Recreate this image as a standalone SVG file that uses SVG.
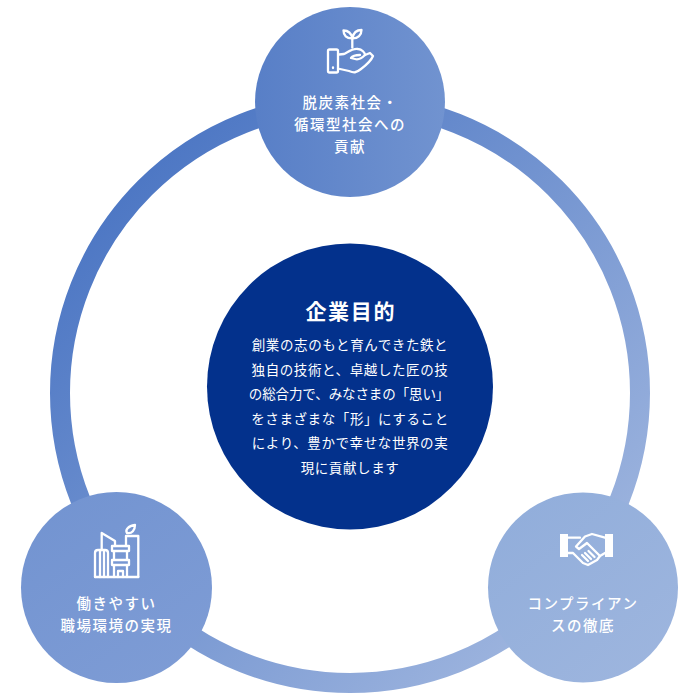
<svg xmlns="http://www.w3.org/2000/svg" width="700" height="700" viewBox="0 0 700 700">
<style>
text{font-family:"Noto Sans CJK JP","Noto Sans",sans-serif;fill:#fff;text-anchor:middle}
.l{font-size:14.500px;font-weight:500;letter-spacing:1.500px}
.b{font-size:13.500px;letter-spacing:.600px}
.t{font-size:21px;font-weight:700;letter-spacing:1.700px}
.i{fill:none;stroke:#fff;stroke-width:2.300;stroke-linejoin:round;stroke-linecap:round}
</style>
<defs>
<linearGradient id="gr" gradientUnits="userSpaceOnUse" x1="130" y1="180" x2="570" y2="610"><stop offset="0" stop-color="#4d77c4"/><stop offset="1" stop-color="#9db4de"/></linearGradient>
<linearGradient id="g1" gradientUnits="userSpaceOnUse" x1="255" y1="102" x2="445" y2="102"><stop offset="0" stop-color="#587fc7"/><stop offset="1" stop-color="#7193d0"/></linearGradient>
<linearGradient id="g2" gradientUnits="userSpaceOnUse" x1="50" y1="500" x2="180" y2="680"><stop offset="0" stop-color="#7394d1"/><stop offset="1" stop-color="#7e9cd5"/></linearGradient>
<linearGradient id="g3" gradientUnits="userSpaceOnUse" x1="520" y1="510" x2="650" y2="670"><stop offset="0" stop-color="#92aedb"/><stop offset="1" stop-color="#9db5de"/></linearGradient>
</defs>
<g id="connectors"><circle cx="350" cy="393" r="290" fill="none" stroke="url(#gr)" stroke-width="20"/></g>
<g id="node-center"><circle cx="350" cy="386.500" r="143" fill="#03318c"/>
<text class="t" x="350.800" y="318.500">企業目的</text>
<text class="b" x="350" y="350">創業の志のもと育んできた鉄と</text>
<text class="b" x="350" y="374.500">独自の技術と、卓越した匠の技</text>
<text class="b" x="349" y="399" style="letter-spacing:-.1px">の総合力で、みなさまの「思い」</text>
<text class="b" x="350" y="423.500">をさまざまな「形」にすること</text>
<text class="b" x="350" y="448">により、豊かで幸せな世界の実</text>
<text class="b" x="350" y="472.500">現に貢献します</text></g>
<g id="node-top"><circle cx="350" cy="102" r="95" fill="url(#g1)"/>
<g class="i"><rect x="328" y="49.500" width="10" height="23" rx="1.500"/><path d="M333 67.500v.5"/>
<path d="M339 54.500l5-.5c4-2 9-6 14-5 4 0 7 4 7 6l5-2 3 3c-2 5-8 10-12 13-5 4-7 4-12 2l-9-2"/><path d="M365 55c-3 3-7 5-10 4l-4-1c2-3 6-3 9-3"/><path d="M352.300 47.700v-9.400"/><path d="M352.300 38.300c-1-5-4-7.800-8.800-7.800 0 5 3 8 8.800 7.800zM352.300 38.300c1-5 4-8.300 9.200-8.300 0 5-3.500 8.500-9.200 8.300z"/></g>
<text class="l" x="350.500" y="108">脱炭素社会・</text><text class="l" x="350" y="130">循環型社会への</text><text class="l" x="350" y="152">貢献</text></g>
<g id="node-left"><circle cx="116.500" cy="587.500" r="95.500" fill="url(#g2)"/>
<g class="i"><path d="M95 577h43.300"/><path d="M95 577v-24c0-2 1-3 3-3h7c2 0 3 1 3 3v24"/><path d="M100 551v26M104 551v26"/><path d="M101.700 550v-17l13.300 8v5"/><path d="M112 546h17v5h-17zM114 551v9h13v-9M112 560h17v5h-17zM114 565v12M127 565v12M118 577v-6h5v6"/><path d="M126 546v-10h12.300v41"/><path d="M127 533c-2-3 1-7 8-8 0 5-3 9-8 8z"/></g>
<text class="l" x="116.500" y="609">働きやすい</text><text class="l" x="116.500" y="631">職場環境の実現</text></g>
<g id="node-right"><circle cx="583" cy="587.500" r="95" fill="url(#g3)"/>
<path d="M560 534h8v23h-8zM605 534h8v23h-8z" fill="#fff"/>
<g class="i"><path d="M605 537.700L592 534l-7 2.500-9 10 3 2.500 8-6 13 13 5-3"/><path d="M568 537.700h12M568 553h5l10 10 5 2 9-5 3-4"/><path d="M582 555l6 6M585 553l6 6M588.500 551l6 6"/></g>
<text class="l" x="583" y="609">コンプライアン</text><text class="l" x="583" y="631">スの徹底</text></g>
</svg>
